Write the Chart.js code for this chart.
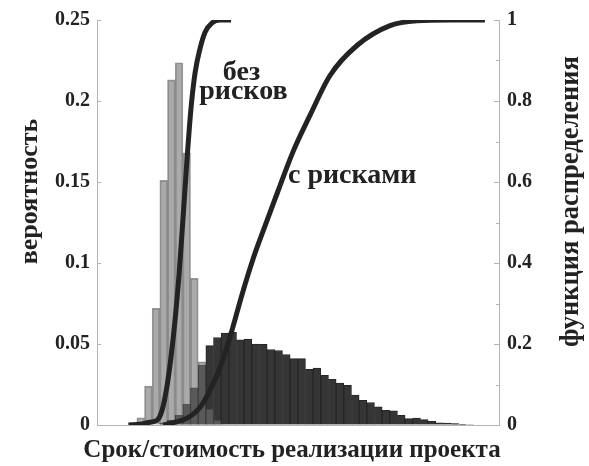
<!DOCTYPE html>
<html><head><meta charset="utf-8">
<script src="https://cdn.jsdelivr.net/npm/chart.js@4/dist/chart.umd.min.js"></script>
<style>html,body{margin:0;padding:0;background:#fff}#wrap{width:589px;height:466px}</style>
</head><body><div id="wrap"><canvas id="c" width="589" height="466"></canvas></div>
<script>
// ---- data (x in histogram-bin units) ----
const binIndex = [-1,0,1,2,3,4,5,6,7,8,9,10,11,12,13,14,15,16,17,18,19,20,21,22,23,24,25,26,27,28,29,30,31,32,33,34,35,36,37,38,39,40,41,42,43];
const probNoRisk = [0.0008,0.0045,0.024,0.072,0.151,0.213,0.2236,0.168,0.0905,0.039,0.01,0.003,
  null,null,null,null,null,null,null,null,null,null,null,null,null,null,null,null,null,null,null,null,null,null,null,null,null,null,null,null,null,null,null,null,null];
const probRisk = [null,null,null,null,0.001,0.003,0.006,0.0129,0.023,0.0368,0.049,0.054,0.0568,0.0572,0.0525,0.0531,0.050,0.0498,0.0466,0.046,0.0435,0.041,0.041,0.0343,0.0351,0.0307,0.0282,0.0259,0.0245,0.0184,0.0153,0.0139,0.0112,0.009,0.0088,0.006,0.0039,0.0043,0.0033,0.0023,0.0014,0.0012,0.0008,0.0004,0.0003];
const cdfNoRiskX = [-1.1,0.4,1.7,2.65,3.3,3.95,4.47,4.99,5.52,6.04,6.56,7.08,7.6,8.25,8.9,9.82,10.86,12.29];
const cdfNoRisk  = [0,0.002,0.007,0.012,0.037,0.098,0.17,0.26,0.375,0.515,0.66,0.785,0.87,0.93,0.97,0.993,1.0,1.0];
const cdfRiskX = [3.43,4.99,6.56,8.25,9.56,10.86,11.9,13.86,15.16,16.08,18.29,20.38,22.6,25.2,28.72,33.03,36.54,40.85,45.41];
const cdfRisk  = [0,0.007,0.017,0.044,0.086,0.142,0.201,0.331,0.41,0.459,0.571,0.675,0.765,0.863,0.937,0.986,0.998,1.0,1.0];
const probTicks = [0,0.05,0.1,0.15,0.2,0.25];
const cdfTicks = [0,0.2,0.4,0.6,0.8,1];
const cdfMinorTicks = [0.1,0.3,0.5,0.7,0.9];
const labels = {
  left: 'вероятность', right: 'функция распределения', bottom: 'Срок/стоимость реализации проекта',
  noRisk1: 'без', noRisk2: 'рисков', risk: 'с рисками'
};
// annotation anchors in data units (x bins, y cdf)
const noteNoRisk1 = {x: 13.65, y: 0.853};
const noteNoRisk2 = {x: 13.9, y: 0.804};
const noteRisk = {x: 28.1, y: 0.598};

const FONT = '"Liberation Serif","Times New Roman",serif';
const TXT = '#222';
const AXIS = '#b4b4b4';

const overlay = {
  id: 'overlay',
  afterDraw(chart) {
    const {ctx, scales: {x, y, y2}} = chart;
    ctx.save();
    ctx.strokeStyle = AXIS; ctx.lineWidth = 1;
    probTicks.forEach(v => {
      const py = Math.round(y.getPixelForValue(v)) + 0.5;
      ctx.beginPath(); ctx.moveTo(y.right, py); ctx.lineTo(y.right + 4, py); ctx.stroke();
    });
    cdfTicks.forEach(v => {
      const py = Math.round(y2.getPixelForValue(v)) + 0.5;
      ctx.beginPath(); ctx.moveTo(y2.left - 5, py); ctx.lineTo(y2.left, py); ctx.stroke();
    });
    cdfMinorTicks.forEach(v => {
      const py = Math.round(y2.getPixelForValue(v)) + 0.5;
      ctx.beginPath(); ctx.moveTo(y2.left - 3, py); ctx.lineTo(y2.left, py); ctx.stroke();
    });
    ctx.fillStyle = TXT;
    ctx.textAlign = 'center'; ctx.textBaseline = 'middle';
    const midY = (y.top + y.bottom) / 2;
    ctx.font = 'bold 26px ' + FONT;
    ctx.save(); ctx.translate(30, midY - 31); ctx.rotate(-Math.PI / 2); ctx.fillText(labels.left, 0, 0); ctx.restore();
    ctx.font = 'bold 26.5px ' + FONT;
    ctx.save(); ctx.translate(571, midY - 21); ctx.rotate(-Math.PI / 2); ctx.fillText(labels.right, 0, 0); ctx.restore();
    ctx.textBaseline = 'alphabetic';
    ctx.font = 'bold 25px ' + FONT;
    ctx.fillText(labels.bottom, (x.left + x.right) / 2 - 6, chart.height - 9);
    ctx.font = 'bold 28px ' + FONT;
    [[labels.noRisk1, noteNoRisk1], [labels.noRisk2, noteNoRisk2], [labels.risk, noteRisk]].forEach(([t, p]) => {
      ctx.fillText(t, x.getPixelForValue(p.x), y2.getPixelForValue(p.y));
    });
    ctx.restore();
  }
};

const fmt = v => String(+Number(v).toFixed(2));
const tickFont = {family: FONT, size: 20, weight: 'bold'};
new Chart(document.getElementById('c'), {
  type: 'bar',
  data: {
    datasets: [
      {type: 'line', data: cdfNoRiskX.map((v, i) => ({x: v, y: cdfNoRisk[i]})), yAxisID: 'y2', borderColor: '#232323', borderWidth: 5, pointRadius: 0, cubicInterpolationMode: 'monotone', order: 0},
      {type: 'line', data: cdfRiskX.map((v, i) => ({x: v, y: cdfRisk[i]})), yAxisID: 'y2', borderColor: '#232323', borderWidth: 5, pointRadius: 0, cubicInterpolationMode: 'monotone', order: 0},
      {data: binIndex.map((k, i) => ({x: k + 0.5, y: probNoRisk[i]})), yAxisID: 'y', backgroundColor: 'rgba(113,113,113,0.6)', borderColor: 'rgba(70,70,70,0.55)', borderWidth: 1, order: 1},
      {data: binIndex.map((k, i) => ({x: k + 0.5, y: probRisk[i]})), yAxisID: 'y', backgroundColor: '#353535', borderColor: '#262626', borderWidth: 1, order: 2}
    ]
  },
  options: {
    responsive: false, animation: false, devicePixelRatio: 1,
    grouped: false,
    barPercentage: 1, categoryPercentage: 1,
    layout: {padding: {top: 17, left: 0, right: 0, bottom: 0}},
    plugins: {legend: {display: false}, tooltip: {enabled: false}},
    scales: {
      x: {type: 'linear', offset: false, min: -5.2, max: 47.25, ticks: {display: false},
          grid: {display: true, offset: false, drawOnChartArea: false, drawTicks: false}, border: {color: AXIS, width: 1},
          afterFit: s => { s.height = 41; }},
      y: {position: 'left', min: 0, max: 0.25, ticks: {stepSize: 0.05, font: tickFont, color: TXT, padding: 7, callback: fmt},
          grid: {display: true, drawOnChartArea: false, drawTicks: false}, border: {color: AXIS, width: 1},
          afterFit: s => { s.width = 97; }},
      y2: {position: 'right', min: 0, max: 1, ticks: {stepSize: 0.2, font: tickFont, color: TXT, padding: 8, callback: fmt},
          grid: {display: true, drawOnChartArea: false, drawTicks: false}, border: {color: AXIS, width: 1},
          afterFit: s => { s.width = 90; }}
    }
  },
  plugins: [overlay]
});
</script>
</body></html>
